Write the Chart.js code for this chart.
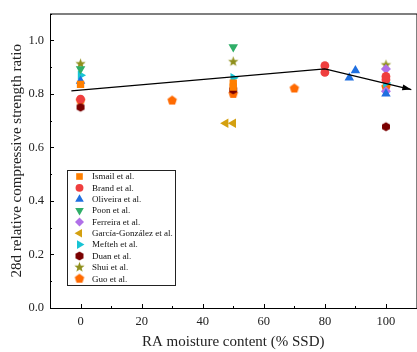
<!DOCTYPE html>
<html lang="en">
<head>
<meta charset="UTF-8" />
<title>Relative compressive strength vs RA moisture</title>
<script src="https://cdn.jsdelivr.net/npm/chart.js@4.4.1/dist/chart.umd.min.js"></script>
<style>
  html, body { margin: 0; padding: 0; background: #fff; overflow: hidden; }
  #wrap { width: 422px; height: 352px; }
</style>
</head>
<body>
<div id="wrap"><canvas id="chart" width="422" height="352"></canvas></div>
<script>
  // ---- data ----
  const ismailX = [0, 50, 50];
  const ismailY = [0.835, 0.84, 0.825];
  const brandX = [0, 80, 80, 100, 100];
  const brandY = [0.78, 0.905, 0.88, 0.865, 0.853];
  const oliveiraX = [0, 88, 90, 100];
  const oliveiraY = [0.848, 0.86, 0.887, 0.80];
  const poonX = [0, 50];
  const poonY = [0.893, 0.975];
  const ferreiraX = [100, 100];
  const ferreiraY = [0.893, 0.81];
  const garciaX = [47.5, 50];
  const garciaY = [0.69, 0.69];
  const meftehX = [0, 50, 100];
  const meftehY = [0.869, 0.86, 0.84];
  const duanX = [0, 50, 100];
  const duanY = [0.75, 0.815, 0.677];
  const shuiX = [0, 50, 100];
  const shuiY = [0.912, 0.92, 0.908];
  const guoX = [0, 30, 50, 70, 100];
  const guoY = [0.775, 0.775, 0.80, 0.82, 0.825];

  const trendX = [-3, 80, 108.3];
  const trendY = [0.811, 0.893, 0.816];

  const xTicks = [0, 20, 40, 60, 80, 100];
  const yTicks = [0, 0.2, 0.4, 0.6, 0.8, 1.0];

  const serif = "'Liberation Serif', 'Times New Roman', serif";

  // custom marker shapes
  function polyMarker(sides, color, r, rot) {
    const c = document.createElement('canvas');
    c.width = c.height = Math.ceil(2 * r + 2);
    const g = c.getContext('2d');
    g.fillStyle = color;
    g.beginPath();
    for (let i = 0; i < sides; i++) {
      const a = rot + i * 2 * Math.PI / sides;
      const px = c.width / 2 + r * Math.cos(a), py = c.height / 2 + r * Math.sin(a);
      i ? g.lineTo(px, py) : g.moveTo(px, py);
    }
    g.closePath();
    g.fill();
    return c;
  }
  function starMarker(color, r) {
    const c = document.createElement('canvas');
    c.width = c.height = Math.ceil(2 * r + 2);
    const g = c.getContext('2d');
    g.fillStyle = color;
    g.beginPath();
    for (let i = 0; i < 10; i++) {
      const rr = i % 2 ? r * 0.42 : r;
      const a = -Math.PI / 2 + i * Math.PI / 5;
      const px = c.width / 2 + rr * Math.cos(a), py = c.height / 2 + rr * Math.sin(a);
      i ? g.lineTo(px, py) : g.moveTo(px, py);
    }
    g.closePath();
    g.fill();
    return c;
  }

  const hexagon = polyMarker(6, '#7a0000', 4.6, Math.PI / 6);
  const pentagon = polyMarker(5, '#ff6a00', 5, -Math.PI / 2);
  const star = starMarker('#8f8f1c', 5.4);

  function pts(xs, ys) { return xs.map((x, i) => ({ x: x, y: ys[i] })); }

  function series(label, xs, ys, color, style, rot, radius) {
    return {
      label: label,
      data: pts(xs, ys),
      backgroundColor: color,
      borderColor: color,
      borderWidth: 0,
      pointStyle: style,
      rotation: rot || 0,
      pointRadius: radius || 4,
      order: 1
    };
  }

  const datasets = [
    series('Ismail et al.', ismailX, ismailY, '#ff7f00', 'rect', 0, 5.2),
    series('Brand et al.', brandX, brandY, '#ef3e3e', 'circle', 0, 4.4),
    series('Oliveira et al.', oliveiraX, oliveiraY, '#1f6fe0', 'triangle', 0, 5.5),
    series('Poon et al.', poonX, poonY, '#2fae68', 'triangle', 180, 5.5),
    series('Ferreira et al.', ferreiraX, ferreiraY, '#b070e8', 'rectRot', 0, 5),
    series('García-González et al.', garciaX, garciaY, '#d4a010', 'triangle', -90, 5.5),
    series('Mefteh et al.', meftehX, meftehY, '#18c4d4', 'triangle', 90, 5.5),
    series('Duan et al.', duanX, duanY, '#7a0000', hexagon, 0, 4.5),
    series('Shui et al.', shuiX, shuiY, '#8f8f1c', star, 0, 4.5),
    series('Guo et al.', guoX, guoY, '#ff6a00', pentagon, 0, 4.5),
    {
      label: 'trend',
      type: 'line',
      data: pts(trendX, trendY),
      borderColor: '#000',
      borderWidth: 1.3,
      pointRadius: 0,
      showLine: true,
      fill: false,
      tension: 0,
      order: 0
    }
  ];

  const frameTicks = {
    id: 'frameTicks',
    afterDraw(chart) {
      const { ctx, chartArea: a, scales: { x, y } } = chart;
      ctx.save();
      ctx.strokeStyle = '#000';
      ctx.lineWidth = 1;
      ctx.strokeRect(a.left + 0.5, a.top + 0.5, a.right - a.left, a.bottom - a.top);
      ctx.beginPath();
      for (let v = -10; v <= 110; v += 10) {
        const px = Math.round(x.getPixelForValue(v)) + 0.5;
        const len = v % 20 === 0 ? 4 : 2;
        ctx.moveTo(px, a.bottom);
        ctx.lineTo(px, a.bottom - len);
      }
      for (let k = 1; k <= 11; k++) {
        const py = Math.round(y.getPixelForValue(k / 10)) + 0.5;
        const len = k % 2 === 0 ? 4 : 2;
        ctx.moveTo(a.left, py);
        ctx.lineTo(a.left + len, py);
      }
      ctx.stroke();
      ctx.restore();
    }
  };

  const arrowHead = {
    id: 'arrowHead',
    afterDatasetsDraw(chart) {
      const idx = chart.data.datasets.findIndex(d => d.label === 'trend');
      const p = chart.getDatasetMeta(idx).data;
      const a = p[p.length - 2], b = p[p.length - 1];
      const ang = Math.atan2(b.y - a.y, b.x - a.x);
      const ctx = chart.ctx;
      ctx.save();
      ctx.translate(b.x, b.y);
      ctx.rotate(ang);
      ctx.fillStyle = '#000';
      ctx.beginPath();
      ctx.moveTo(0, 0);
      ctx.lineTo(-9, -3);
      ctx.lineTo(-9, 3);
      ctx.closePath();
      ctx.fill();
      ctx.restore();
    }
  };

  const boxLegend = {
    id: 'boxLegend',
    afterDatasetsDraw(chart) {
      const ctx = chart.ctx;
      const items = chart.data.datasets.filter(d => d.label !== 'trend');
      const left = 67.5, top = 170.5, w = 108, h = 115;
      ctx.save();
      ctx.fillStyle = '#fff';
      ctx.fillRect(left, top, w, h);
      ctx.strokeStyle = '#222';
      ctx.lineWidth = 1;
      ctx.strokeRect(left, top, w, h);
      ctx.font = '9px ' + serif;
      ctx.textBaseline = 'middle';
      items.forEach((d, i) => {
        const cy = 176.5 + i * 11.35;
        ctx.fillStyle = d.backgroundColor;
        Chart.helpers.drawPoint(ctx, {
          pointStyle: d.pointStyle,
          rotation: d.rotation,
          radius: d.pointRadius * 0.9,
          borderWidth: 0
        }, 79.5, cy);
        ctx.fillStyle = '#111';
        ctx.fillText(d.label, 92, cy + 0.5);
      });
      ctx.restore();
    }
  };

  new Chart(document.getElementById('chart'), {
    type: 'scatter',
    data: { datasets: datasets },
    options: {
      responsive: false,
      devicePixelRatio: 1,
      animation: false,
      layout: { padding: { top: 9, right: 2, left: 0, bottom: 0 } },
      plugins: { legend: { display: false }, tooltip: { enabled: false } },
      scales: {
        x: {
          type: 'linear',
          min: -10,
          max: 110,
          afterBuildTicks: s => { s.ticks = xTicks.map(v => ({ value: v })); },
          afterFit: s => { s.height = 44; },
          grid: { display: false, drawTicks: false },
          border: { display: false },
          ticks: { color: '#222', padding: 6, font: { family: serif, size: 12.5 } },
          title: {
            display: true,
            text: 'RA moisture content (% SSD)',
            color: '#222',
            font: { family: serif, size: 15 },
            padding: { top: 0, bottom: 1 }
          }
        },
        y: {
          type: 'linear',
          min: 0,
          max: 1.1,
          afterBuildTicks: s => { s.ticks = yTicks.map(v => ({ value: v })); },
          afterFit: s => { s.width = 50; },
          grid: { display: false, drawTicks: false },
          border: { display: false },
          ticks: {
            color: '#222',
            padding: 6,
            font: { family: serif, size: 12.5 },
            callback: v => v.toFixed(1)
          },
          title: {
            display: true,
            text: '28d relative compressive strength ratio',
            color: '#222',
            font: { family: serif, size: 15 },
            padding: { top: 8, bottom: 0 }
          }
        }
      }
    },
    plugins: [frameTicks, arrowHead, boxLegend]
  });
</script>
</body>
</html>
